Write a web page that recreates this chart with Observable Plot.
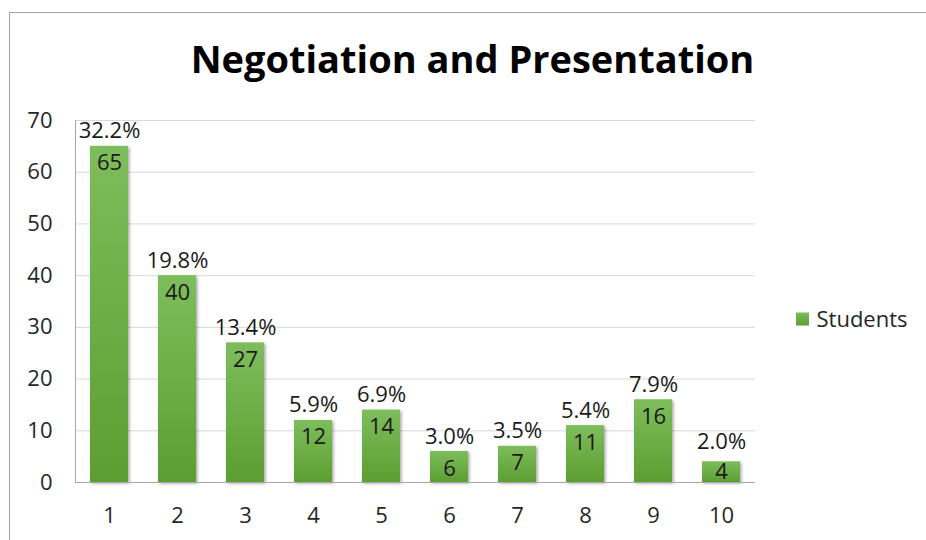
<!DOCTYPE html>
<html>
<head>
<meta charset="utf-8">
<script src="https://cdn.jsdelivr.net/npm/d3@7"></script>
<script src="https://cdn.jsdelivr.net/npm/@observablehq/plot@0.6"></script>
<style>
  html, body { margin: 0; padding: 0; background: #fff; }
  #wrap { position: relative; width: 926px; height: 540px; overflow: hidden; }
  #border { position: absolute; left: 9px; top: 12px; width: 2000px; height: 2000px;
            border-left: 1px solid #a6a6a6; border-top: 1px solid #a6a6a6; pointer-events: none; }
  svg text { font-family: "Open Sans", "Noto Sans", sans-serif; }
</style>
</head>
<body>
<div id="wrap"><div id="border"></div></div>
<script>
const title = "Negotiation and Presentation";
const seriesName = "Students";
const categories = ["1", "2", "3", "4", "5", "6", "7", "8", "9", "10"];
const counts = [65, 40, 27, 12, 14, 6, 7, 11, 16, 4];
const percents = ["32.2%", "19.8%", "13.4%", "5.9%", "6.9%", "3.0%", "3.5%", "5.4%", "7.9%", "2.0%"];
const yTicks = [0, 10, 20, 30, 40, 50, 60, 70];

const data = categories.map((c, i) => ({cat: c, count: counts[i], pct: percents[i]}));
const tall = data.filter(d => d.count >= 6);
const short = data.filter(d => d.count < 6);

const W = 926, H = 540;
const mL = 75, mR = 171, mT = 120, mB = 58;
const FS = 22;

const chart = Plot.plot({
  width: W, height: H,
  marginLeft: mL, marginRight: mR, marginTop: mT, marginBottom: mB,
  style: {fontSize: FS + "px", color: "#262626", background: "transparent", overflow: "visible"},
  x: {domain: categories, paddingInner: 0.44, paddingOuter: 0.22, label: null},
  y: {domain: [0, 70], ticks: yTicks, label: null},
  marks: [
    Plot.gridY(yTicks, {stroke: "#d9d9d9", strokeOpacity: 1}),
    Plot.axisY({ticks: yTicks, tickSize: 0, tickPadding: 23, fontSize: FS, fill: "#262626", label: null}),
    Plot.axisX({tickSize: 0, tickPadding: 25, fontSize: FS, fill: "#262626", label: null}),
    Plot.barY(data, {x: "cat", y: "count", fill: "url(#barGrad)", className: "bars"}),
    Plot.ruleY([0], {stroke: "#a6a6a6", strokeWidth: 1.2}),
    Plot.frame({anchor: "left", stroke: "#a6a6a6"}),
    Plot.text(tall, {x: "cat", y: "count", text: d => String(d.count), dy: 17, fontSize: FS, fill: "#1a1a1a"}),
    Plot.text(short, {x: "cat", y: d => d.count / 2, text: d => String(d.count), fontSize: FS, fill: "#1a1a1a"}),
    Plot.text(tall, {x: "cat", y: "count", text: "pct", dy: -15, fontSize: FS, fill: "#1a1a1a"}),
    Plot.text(short, {x: "cat", y: "count", text: "pct", dy: -20, fontSize: FS, fill: "#1a1a1a"}),
    Plot.text([title], {frameAnchor: "top", lineAnchor: "top", dx: 57, dy: -74, fontSize: 38, fontWeight: "bold", fill: "#000", text: d => d}),
    Plot.text([seriesName], {frameAnchor: "right", lineAnchor: "middle", dx: 61, dy: 18, textAnchor: "start", fontSize: FS, fill: "#262626", text: d => d})
  ]
});

const svg = d3.select(chart);
const defs = svg.insert("defs", ":first-child");
const g = defs.append("linearGradient").attr("id", "barGrad").attr("x1", 0).attr("y1", 0).attr("x2", 0).attr("y2", 1);
g.append("stop").attr("offset", "0%").attr("stop-color", "#7dbd5c");
g.append("stop").attr("offset", "100%").attr("stop-color", "#5c9e31");
const f = defs.append("filter").attr("id", "barShadow").attr("x", "-20%").attr("y", "-5%").attr("width", "150%").attr("height", "115%");
f.append("feDropShadow").attr("dx", 1.5).attr("dy", 1.5).attr("stdDeviation", 1.5).attr("flood-color", "#000").attr("flood-opacity", 0.35);
svg.selectAll("g.bars rect").attr("filter", "url(#barShadow)");

// legend swatch
const legendY = mT + (H - mT - mB) / 2 + 18;
svg.append("rect").attr("x", 796).attr("y", legendY - 6.5).attr("width", 13).attr("height", 13)
   .attr("fill", "url(#barGrad)");

document.getElementById("wrap").prepend(chart);
</script>
</body>
</html>
